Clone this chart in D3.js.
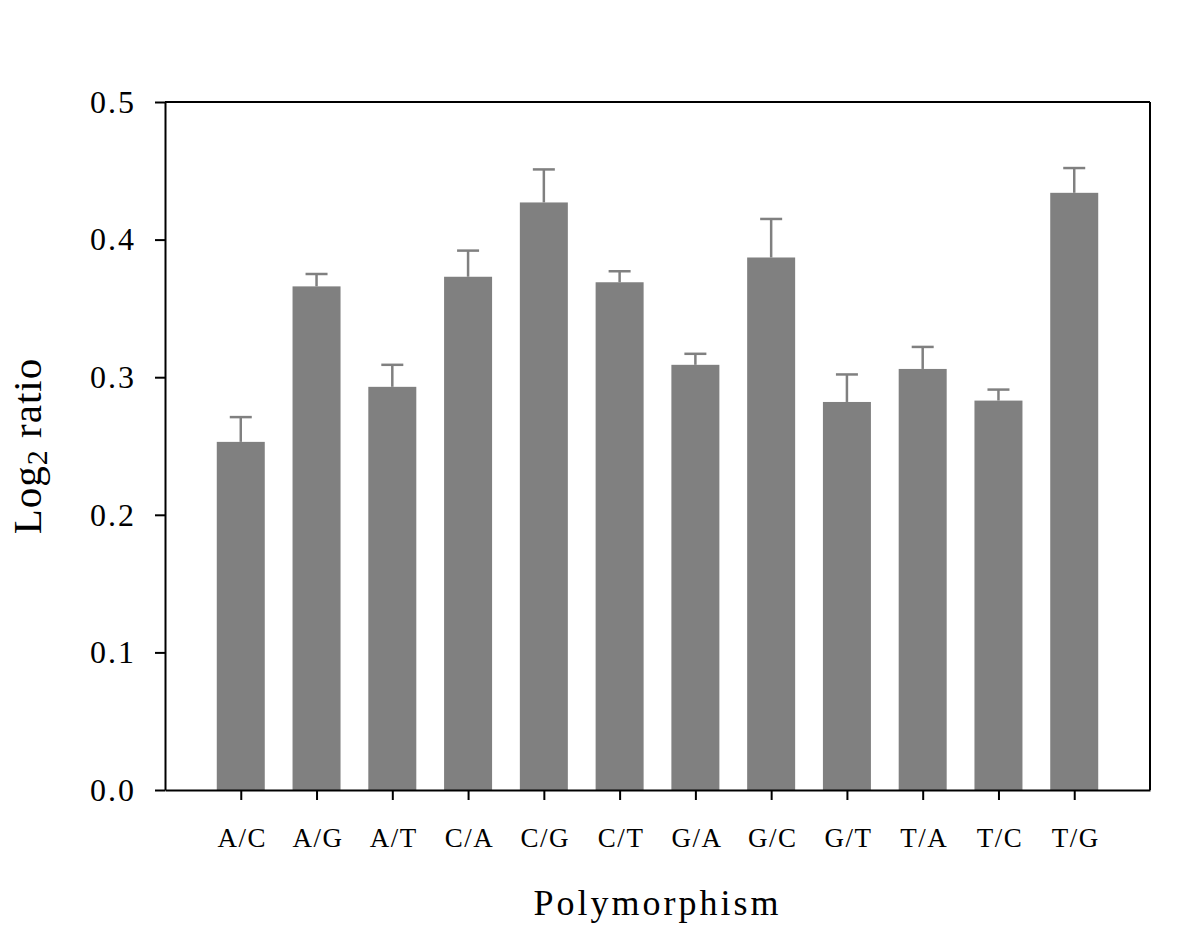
<!DOCTYPE html>
<html>
<head>
<meta charset="utf-8">
<script src="https://cdn.jsdelivr.net/npm/d3@7"></script>
<style>
  body { margin: 0; background: #fff; }
  svg text { font-family: "Liberation Serif", "Times New Roman", serif; fill: #000; }
</style>
</head>
<body>
<div id="chart"></div>
<script>
// data
const categories = ['A/C', 'A/G', 'A/T', 'C/A', 'C/G', 'C/T', 'G/A', 'G/C', 'G/T', 'T/A', 'T/C', 'T/G'];
const ratios = [0.253, 0.366, 0.293, 0.373, 0.427, 0.369, 0.309, 0.387, 0.282, 0.306, 0.283, 0.434];
const errors = [0.018, 0.009, 0.016, 0.019, 0.024, 0.008, 0.008, 0.028, 0.020, 0.016, 0.008, 0.018];
const yTicks = [0, 0.1, 0.2, 0.3, 0.4, 0.5];

const data = categories.map((c, i) => ({ cat: c, value: ratios[i], err: errors[i] }));

const width = 1200, height = 932;
const margin = { top: 102, right: 50, bottom: 142, left: 165 };
const plotW = width - margin.left - margin.right,
    plotH = height - margin.top - margin.bottom,
    barWidth = 48,
    capWidth = 22,
    barColor = '#808080';

const svg = d3.select('#chart').append('svg')
    .attr('width', width)
    .attr('height', height);

const g = svg.append('g')
    .attr('transform', `translate(${margin.left},${margin.top})`);

// X
const x = d3.scalePoint()
    .domain(categories)
    .range([0, plotW])
    .padding(1);

// Y
const y = d3.scaleLinear()
    .domain([0, 0.5])
    .range([plotH, 0]);

// Bars
g.selectAll('.bar')
    .data(data)
    .enter().append('rect')
    .attr('class', 'bar')
    .attr('x', d => x(d.cat) - barWidth / 2)
    .attr('y', d => y(d.value))
    .attr('width', barWidth)
    .attr('height', d => plotH - y(d.value))
    .attr('fill', barColor);

// Error bars (upper only)
const eb = g.selectAll('.err')
    .data(data)
    .enter().append('g')
    .attr('class', 'err')
    .attr('stroke', barColor)
    .attr('stroke-width', 2.5);

eb.append('line')
    .attr('x1', d => x(d.cat))
    .attr('x2', d => x(d.cat))
    .attr('y1', d => y(d.value))
    .attr('y2', d => y(d.value + d.err));

eb.append('line')
    .attr('x1', d => x(d.cat) - capWidth / 2)
    .attr('x2', d => x(d.cat) + capWidth / 2)
    .attr('y1', d => y(d.value + d.err))
    .attr('y2', d => y(d.value + d.err));

// Axes
const yAxis = g.append('g')
    .call(d3.axisLeft(y)
        .tickValues(yTicks)
        .tickFormat(d3.format('.1f'))
        .tickSize(10)
        .tickSizeOuter(0)
        .tickPadding(21));

const xAxis = g.append('g')
    .attr('transform', `translate(0,${plotH})`)
    .call(d3.axisBottom(x)
        .tickSize(10)
        .tickSizeOuter(0)
        .tickPadding(28));

[yAxis, xAxis].forEach(a => {
    a.selectAll('path, line').attr('stroke', '#000').attr('stroke-width', 2);
    a.selectAll('text').style('font-family', '"Liberation Serif", serif').attr('fill', '#000');
});
yAxis.selectAll('text').style('font-size', '32px').style('letter-spacing', '2px').attr('dx', '2px');
xAxis.selectAll('text').style('font-size', '27px').style('letter-spacing', '1.5px').attr('dx', '1px');

// frame: top and right
g.append('line')
    .attr('x1', 0).attr('x2', plotW)
    .attr('y1', 0).attr('y2', 0)
    .attr('stroke', '#000').attr('stroke-width', 2);
g.append('line')
    .attr('x1', plotW).attr('x2', plotW)
    .attr('y1', 0).attr('y2', plotH)
    .attr('stroke', '#000').attr('stroke-width', 2);

// Axis titles
svg.append('text')
    .attr('x', margin.left + plotW / 2)
    .attr('y', 915)
    .attr('text-anchor', 'middle')
    .style('font-size', '36px')
    .style('letter-spacing', '3px')
    .text('Polymorphism');

const yTitle = svg.append('text')
    .attr('transform', `translate(41,${margin.top + plotH / 2}) rotate(-90)`)
    .attr('text-anchor', 'middle')
    .style('font-size', '41px')
    .style('letter-spacing', '1px');
yTitle.append('tspan').text('Log');
yTitle.append('tspan').attr('dy', 6).style('font-size', '30px').text('2');
yTitle.append('tspan').attr('dy', -6).text(' ratio');
</script>
</body>
</html>
